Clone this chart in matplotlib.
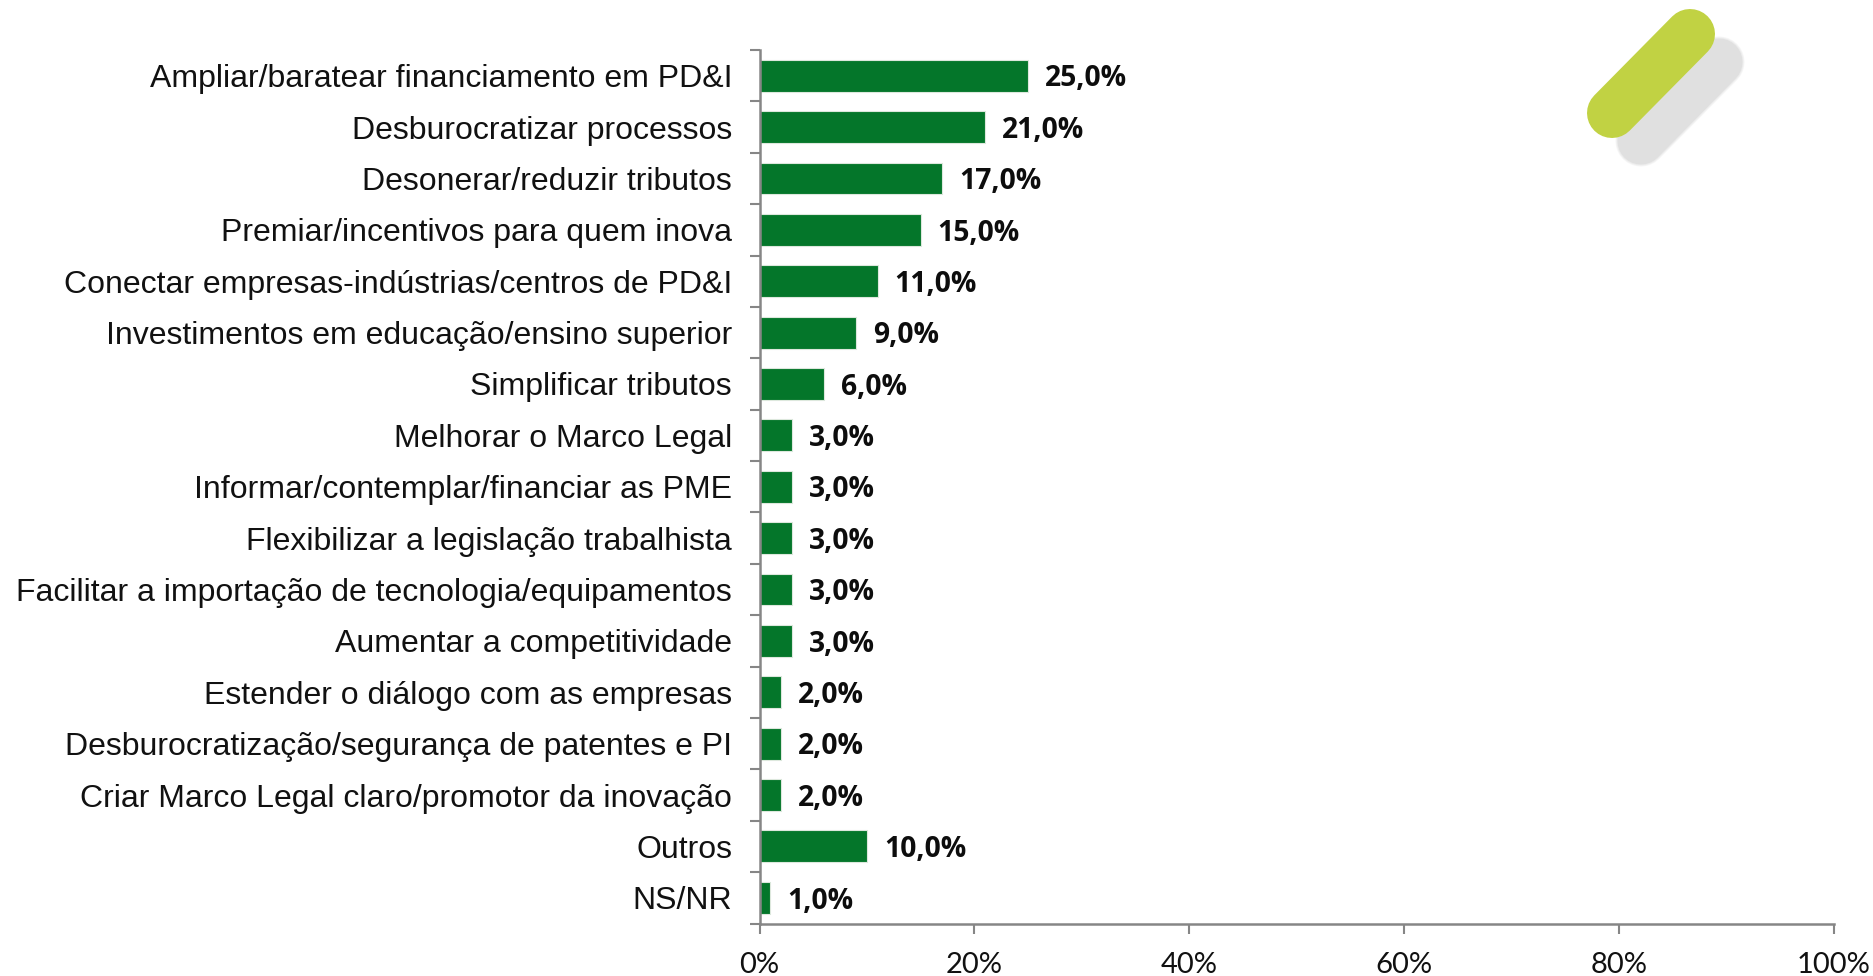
import numpy as np
import matplotlib
matplotlib.use('Agg')
import matplotlib.pyplot as plt
from matplotlib.lines import Line2D

categories = [
    'Ampliar/baratear financiamento em PD&I',
    'Desburocratizar processos',
    'Desonerar/reduzir tributos',
    'Premiar/incentivos para quem inova',
    'Conectar empresas-indústrias/centros de PD&I',
    'Investimentos em educação/ensino superior',
    'Simplificar tributos',
    'Melhorar o Marco Legal',
    'Informar/contemplar/financiar as PME',
    'Flexibilizar a legislação trabalhista',
    'Facilitar a importação de tecnologia/equipamentos',
    'Aumentar a competitividade',
    'Estender o diálogo com as empresas',
    'Desburocratização/segurança de patentes e PI',
    'Criar Marco Legal claro/promotor da inovação',
    'Outros',
    'NS/NR',
]
values = [25, 21, 17, 15, 11, 9, 6, 3, 3, 3, 3, 3, 2, 2, 2, 10, 1]
x_ticks = [0, 20, 40, 60, 80, 100]

W, H = 1873, 976
GREY = '#868686'

fig = plt.figure(figsize=(W / 100, H / 100), dpi=100)
ax = fig.add_axes([759.5 / W, 1 - 923.5 / H, 1074.5 / W, 873.5 / H])

y = np.arange(len(values))
ax.barh(y, values, height=0.62, color='#04762A', edgecolor='#DDE8DD', linewidth=0.8)
ax.set_xlim(0, 100)
ax.set_ylim(len(values) - 0.5, -0.5)

for i, v in enumerate(values):
    ax.annotate(f'{v:.1f}%'.replace('.', ','), (v, i), xytext=(12.2, -2.3), textcoords='offset points',
                va='center', ha='left', fontsize=20.3, fontweight='bold', family='Open Sans', color='#0d0d0d')

ax.set_yticks(np.arange(len(values) + 1) - 0.5)
ax.set_yticklabels([])
ax.set_yticks(y, minor=True)
ax.set_yticklabels(categories, minor=True, fontsize=23, family='Liberation Sans', color='#111111')
ax.tick_params(axis='y', which='major', length=7, width=1.5, color=GREY)
ax.tick_params(axis='y', which='minor', length=0, pad=19.8)

ax.set_xticks(x_ticks)
ax.set_xticklabels([f'{t}%' for t in x_ticks], fontsize=21, family='Lato', color='#111111')
ax.tick_params(axis='x', length=7, width=1.5, color=GREY, pad=13.7)

for side in ['top', 'right']:
    ax.spines[side].set_visible(False)
for side in ['left', 'bottom']:
    ax.spines[side].set_color(GREY)
    ax.spines[side].set_linewidth(1.8)


# logo no canto superior direito
def pill(x0, y0, x1, y1, width, color, alpha=1.0, z=5):
    fig.add_artist(Line2D([x0 / W, x1 / W], [1 - y0 / H, 1 - y1 / H], transform=fig.transFigure,
                          lw=width * 0.72, color=color, alpha=alpha, solid_capstyle='round', zorder=z))


for wid, a in [(51, 0.3), (49, 0.4), (47, 1.0)]:
    pill(1641, 141, 1719, 62, wid, '#E0E0E0', alpha=a, z=4)
pill(1612, 113, 1690, 34, 50, '#C1D243')

fig.savefig('out.png', dpi=100)
